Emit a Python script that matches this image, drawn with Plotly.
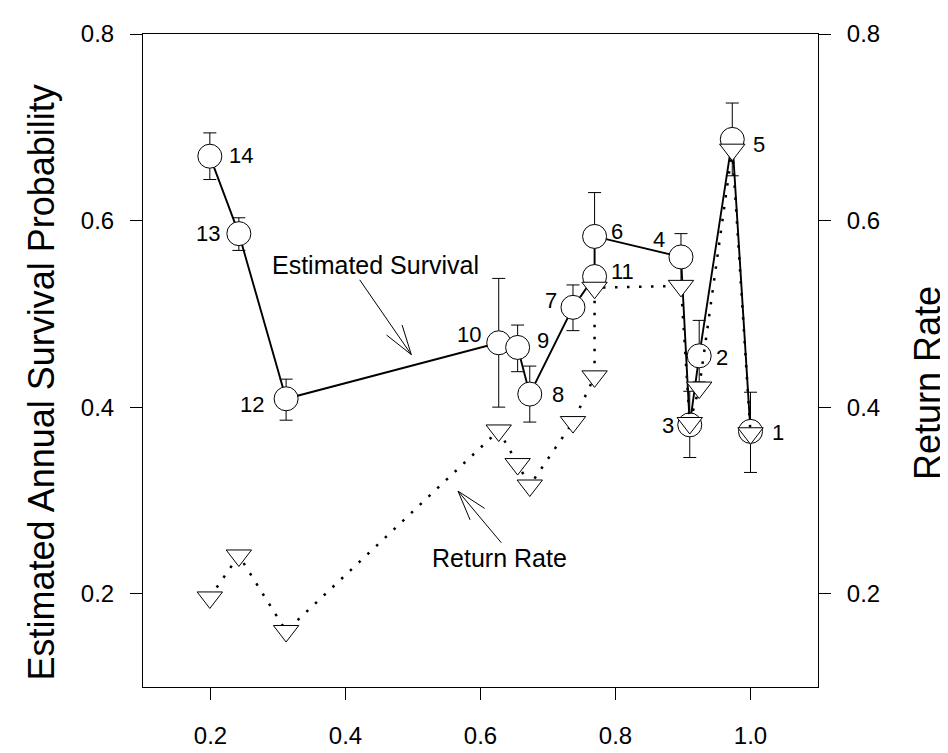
import math
import plotly.graph_objects as go

# ---------------- data ----------------
sites = ["14", "13", "12", "10", "9", "8", "7", "11", "6", "4", "3", "2", "5", "1"]
x_vals = [0.199, 0.242, 0.312, 0.627, 0.655, 0.673, 0.737, 0.769, 0.769,
          0.897, 0.910, 0.924, 0.973, 1.000]
survival = [0.669, 0.586, 0.409, 0.469, 0.464, 0.414, 0.507, 0.540, 0.583,
            0.561, 0.381, 0.455, 0.687, 0.374]
surv_err_plus = [0.025, 0.017, 0.021, 0.069, 0.024, 0.030, 0.024, 0.010, 0.047,
                 0.025, 0.036, 0.038, 0.039, 0.042]
surv_err_minus = [0.025, 0.018, 0.023, 0.069, 0.026, 0.030, 0.025, 0.010, 0.045,
                  0.028, 0.035, 0.028, 0.039, 0.044]
return_rate = [0.196, 0.241, 0.160, 0.375, 0.339, 0.316, 0.384, 0.433, 0.528,
               0.530, 0.383, 0.421, 0.676, 0.372]

x_ticks = [0.2, 0.4, 0.6, 0.8, 1.0]
y_ticks = [0.2, 0.4, 0.6, 0.8]
x_range = [0.1, 1.1]
y_range = [0.1, 0.8]

# label placement style: (xanchor, xshift px, yshift px)
label_style = {
    "14": ("left", 18, 1), "13": ("right", -18, 0), "12": ("right", -21, -6),
    "10": ("right", -17, 8), "9": ("left", 18, 7), "8": ("left", 21, 0),
    "7": ("right", -15, 7), "11": ("left", 15, 5), "6": ("left", 15, 5),
    "4": ("right", -15, 17), "3": ("right", -15, -1), "2": ("left", 16, -2),
    "5": ("left", 20, -5), "1": ("left", 20, -1),
}

FONT = "Liberation Sans, Arial, Helvetica, sans-serif"
W, H = 948, 753
ML, MR, MT, MB = 135, 138, 16, 63
PW = W - ML - MR
PH = H - MT - MB

fig = go.Figure()

fig.add_trace(go.Scatter(
    x=x_vals, y=survival, mode="lines+markers", name="Estimated Survival",
    line=dict(color="black", width=1.9),
    marker=dict(symbol="circle", size=24, color="white",
                line=dict(color="black", width=1)),
    error_y=dict(type="data", symmetric=False, array=surv_err_plus,
                 arrayminus=surv_err_minus, color="black", thickness=1, width=6.5),
    showlegend=False,
))

fig.add_trace(go.Scatter(
    x=x_vals, y=return_rate, mode="lines+markers", name="Return Rate",
    yaxis="y2",
    line=dict(color="black", width=2.5, dash="2.5px,9.5px"),
    marker=dict(symbol="triangle-down", size=22, color="white",
                line=dict(color="black", width=1)),
    showlegend=False,
))

annotations = []
for s, xv, yv in zip(sites, x_vals, survival):
    anc, dx, dy = label_style[s]
    annotations.append(dict(
        x=xv, y=yv, xref="x", yref="y", text=s, showarrow=False,
        xanchor=anc, yanchor="middle", xshift=dx, yshift=dy, borderpad=0,
        font=dict(family=FONT, size=22, color="black")))

# text annotations
annotations.append(dict(x=0.444, y=0.552, xref="x", yref="y",
                        text="Estimated Survival", showarrow=False,
                        xanchor="center", yanchor="middle",
                        font=dict(family=FONT, size=25, color="black")))
annotations.append(dict(x=0.628, y=0.238, xref="x", yref="y",
                        text="Return Rate", showarrow=False,
                        xanchor="center", yanchor="middle",
                        font=dict(family=FONT, size=25, color="black")))

# axis titles
annotations.append(dict(x=-0.150, y=0.466, xref="paper", yref="paper",
                        text="Estimated Annual Survival Probability", showarrow=False,
                        textangle=-90, xanchor="center", yanchor="middle",
                        font=dict(family=FONT, size=36, color="black")))
annotations.append(dict(x=1.162, y=0.466, xref="paper", yref="paper",
                        text="Return Rate", showarrow=False,
                        textangle=-90, xanchor="center", yanchor="middle",
                        font=dict(family=FONT, size=36, color="black")))


def to_px(x, y):
    px = (x - x_range[0]) / (x_range[1] - x_range[0]) * PW
    py = (y - y_range[0]) / (y_range[1] - y_range[0]) * PH
    return px, py


def to_data(px, py):
    return (x_range[0] + px / PW * (x_range[1] - x_range[0]),
            y_range[0] + py / PH * (y_range[1] - y_range[0]))


def arrow_path(tail, tip, arm=32, half_angle=17):
    tx, ty = to_px(*tail)
    hx, hy = to_px(*tip)
    ang = math.atan2(ty - hy, tx - hx)
    pts = []
    for a in (ang + math.radians(half_angle), ang - math.radians(half_angle)):
        pts.append(to_data(hx + arm * math.cos(a), hy + arm * math.sin(a)))
    (a1x, a1y), (a2x, a2y) = pts
    return (f"M {tail[0]},{tail[1]} L {tip[0]},{tip[1]} "
            f"M {a1x},{a1y} L {tip[0]},{tip[1]} L {a2x},{a2y}")


shapes = [
    dict(type="path", xref="x", yref="y",
         path=arrow_path((0.421, 0.5365), (0.4975, 0.4563)),
         line=dict(color="black", width=1)),
    dict(type="path", xref="x", yref="y",
         path=arrow_path((0.6308, 0.2547), (0.5667, 0.310)),
         line=dict(color="black", width=1)),
]

axis_common = dict(
    showline=True, linecolor="black", linewidth=1,
    ticks="outside", ticklen=12, tickwidth=1, tickcolor="black",
    showgrid=False, zeroline=False,
    tickfont=dict(family=FONT, size=24, color="black"),
    tickformat=".1f",
)

fig.update_layout(
    width=W, height=H,
    margin=dict(l=ML, r=MR, t=MT, b=MB, pad=0),
    paper_bgcolor="white", plot_bgcolor="white",
    xaxis=dict(range=x_range, tickvals=x_ticks, mirror=True,
               ticklabelstandoff=15, **axis_common),
    yaxis=dict(range=y_range, tickvals=y_ticks, ticklabelstandoff=11, **axis_common),
    yaxis2=dict(range=y_range, tickvals=y_ticks, overlaying="y", side="right",
                ticklabelstandoff=11, **axis_common),
    annotations=annotations,
    shapes=shapes,
)

fig.write_html("out.html")
